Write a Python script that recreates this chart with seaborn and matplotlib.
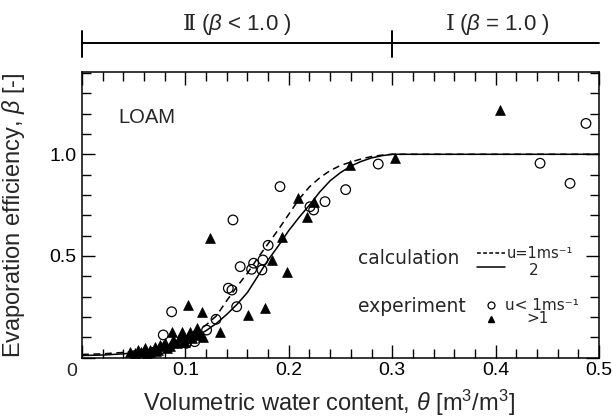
import numpy as np
import pandas as pd
import seaborn as sns
import matplotlib
matplotlib.use('Agg')
from matplotlib import pyplot as plt
from matplotlib.ticker import MultipleLocator

# calculated beta(theta) curves, u = 1 m/s (dashed) and u = 2 m/s (solid)
theta_calc = [0.00, 0.02, 0.04, 0.06, 0.08, 0.09, 0.10, 0.11, 0.12, 0.13, 0.14, 0.15, 0.16, 0.17,
              0.18, 0.19, 0.20, 0.21, 0.22, 0.23, 0.24, 0.25, 0.26, 0.27, 0.28, 0.29, 0.30, 0.50]
beta_u1 = [0.015, 0.018, 0.025, 0.038, 0.062, 0.078, 0.098, 0.125, 0.160, 0.205, 0.280, 0.350, 0.415, 0.490,
           0.560, 0.630, 0.705, 0.780, 0.840, 0.885, 0.920, 0.945, 0.962, 0.977, 0.989, 0.996, 1.000, 1.000]
beta_u2 = [0.010, 0.012, 0.018, 0.030, 0.050, 0.062, 0.080, 0.104, 0.132, 0.168, 0.212, 0.262, 0.320, 0.400,
           0.480, 0.550, 0.625, 0.690, 0.750, 0.815, 0.870, 0.910, 0.942, 0.965, 0.982, 0.993, 1.000, 1.000]

# experiment, u < 1 m/s (open circles)
theta_slow = [0.0786, 0.0867, 0.101, 0.109, 0.1205, 0.1296, 0.1415, 0.145, 0.146, 0.1496, 0.153, 0.164,
              0.166, 0.174, 0.175, 0.180, 0.1915, 0.2205, 0.224, 0.235, 0.255, 0.2865, 0.443, 0.472, 0.4874]
beta_slow = [0.111, 0.225, 0.070, 0.078, 0.135, 0.188, 0.341, 0.332, 0.677, 0.250, 0.447, 0.434,
             0.464, 0.431, 0.480, 0.552, 0.841, 0.742, 0.726, 0.767, 0.826, 0.952, 0.956, 0.857, 1.152]

# experiment, u > 1 m/s (filled triangles)
theta_fast = [0.046, 0.051, 0.0545, 0.057, 0.061, 0.0626, 0.0658, 0.066, 0.0706, 0.072, 0.0738, 0.0754,
              0.078, 0.0803, 0.0819, 0.085, 0.0867, 0.0883, 0.089, 0.0916, 0.094, 0.0964, 0.098, 0.100,
              0.1028, 0.103, 0.1044, 0.106, 0.108, 0.111, 0.112, 0.1141, 0.1157, 0.1173, 0.124, 0.1335,
              0.161, 0.177, 0.1835, 0.193, 0.198, 0.209, 0.2175, 0.224, 0.259, 0.3027, 0.404]
beta_fast = [0.029, 0.021, 0.037, 0.028, 0.045, 0.021, 0.029, 0.038, 0.053, 0.030, 0.037, 0.062,
             0.055, 0.070, 0.045, 0.055, 0.127, 0.086, 0.075, 0.070, 0.090, 0.127, 0.094, 0.075,
             0.258, 0.110, 0.127, 0.094, 0.115, 0.143, 0.120, 0.111, 0.225, 0.102, 0.587, 0.127,
             0.209, 0.242, 0.480, 0.594, 0.422, 0.783, 0.690, 0.767, 0.945, 0.983, 1.218]

xtick_vals = [0.0, 0.1, 0.2, 0.3, 0.4, 0.5]
xtick_labels = ['', '0.1', '0.2', '0.3', '0.4', '0.5']
ytick_vals = [0.0, 0.5, 1.0]
ytick_labels = ['', '0.5', '1.0']

regions = [(0.0, 0.3, 'Ⅱ', '($\\beta$ < 1.0 )'), (0.3, 0.5, 'Ⅰ', '($\\beta$ = 1.0 )')]

sns.set_style('ticks')
plt.rcParams['font.family'] = ['Liberation Sans', 'DejaVu Sans']
plt.rcParams['mathtext.fontset'] = 'custom'
plt.rcParams['mathtext.rm'] = 'Liberation Sans'
plt.rcParams['mathtext.it'] = 'Liberation Sans:italic'

fig = plt.figure(figsize=(6.12, 4.17), dpi=100)
ax = fig.add_axes([82 / 612, 1 - 357.5 / 417, 517 / 612, 285.5 / 417])

calc = pd.DataFrame({'theta': theta_calc, 'u1': beta_u1, 'u2': beta_u2})
sns.lineplot(data=calc, x='theta', y='u1', ax=ax, color='black', lw=1.1,
             linestyle=(0, (4.5, 3)), zorder=2)
sns.lineplot(data=calc, x='theta', y='u2', ax=ax, color='black', lw=1.1, zorder=2)

sns.scatterplot(x=theta_slow, y=beta_slow, ax=ax, marker='o', s=48, color='white',
                edgecolor='black', linewidth=0.9, zorder=3)
ax.collections[-1].set_facecolor('none')
sns.scatterplot(x=theta_fast, y=beta_fast, ax=ax, marker='^', s=50, color='black',
                edgecolor='black', linewidth=0.5, zorder=4)

ax.set_xlim(0, 0.5)
ax.set_ylim(0, 1.405)
ax.set_xticks(xtick_vals)
ax.set_xticklabels(xtick_labels)
ax.set_yticks(ytick_vals)
ax.set_yticklabels(ytick_labels)
ax.xaxis.set_minor_locator(MultipleLocator(0.02))
ax.yaxis.set_minor_locator(MultipleLocator(0.1))
ax.tick_params(which='both', direction='in', top=True, right=True, width=1.0, labelsize=14, colors='black')
ax.tick_params(which='major', length=9.5)
ax.tick_params(which='minor', length=6.5)
ax.tick_params(axis='x', pad=3)
ax.tick_params(axis='y', pad=4)
for sp in ax.spines.values():
    sp.set_linewidth(1.1)
    sp.set_color('black')

ax.annotate('0', xy=(0, 0), xycoords='axes fraction', xytext=(-7.4, -10.4),
            textcoords='offset points', ha='center', va='center', fontsize=14)

ax.set_xlabel('Volumetric water content, $\\theta$ [m$^3$/m$^3$]', fontsize=17)
ax.set_ylabel('Evaporation efficiency, $\\beta$ [-]', fontsize=17)
ax.xaxis.set_label_coords(0.478, -0.106)
ax.yaxis.set_label_coords(-0.1064, 0.5)

# soil type
ax.text(0.035, 1.183, 'LOAM', fontsize=14.5, ha='left', va='center')

# hand-drawn key
kf = dict(family='DejaVu Sans', va='center')
ax.text(0.267, 0.487, 'calculation', ha='left', fontsize=13.5, **kf)
ax.plot([0.382, 0.409], [0.514, 0.514], color='black', lw=1.1, ls=(0, (2.5, 1.5)))
ax.plot([0.382, 0.409], [0.445, 0.445], color='black', lw=1.1)
ax.text(0.411, 0.514, 'u=1ms⁻¹', ha='left', fontsize=10.5, **kf)
ax.text(0.437, 0.428, '2', ha='center', fontsize=11, **kf)
ax.text(0.267, 0.25, 'experiment', ha='left', fontsize=13.5, **kf)
ax.plot([0.3952], [0.258], marker='o', ms=5, mfc='none', mec='black', mew=0.9, ls='none')
ax.plot([0.3952], [0.19], marker='^', ms=5, color='black', ls='none')
ax.text(0.409, 0.258, 'u< 1ms⁻¹', ha='left', fontsize=11, **kf)
ax.text(0.430, 0.19, '>1', ha='left', fontsize=11, **kf)

# regime bar above the plot
for x0, x1, numeral, cond in regions:
    mid = (x0 + x1) / 2
    ax.plot([x0, x1], [1.546, 1.546], color='black', lw=1.4, clip_on=False)
    ax.plot([x0, x0], [1.477, 1.608], color='black', lw=1.4, clip_on=False)
    ax.text(mid - 0.040, 1.641, numeral, ha='right', va='center', fontsize=16,
            family=['DejaVu Serif', 'Noto Sans CJK JP'])
    ax.text(mid - 0.035, 1.641, cond, ha='left', va='center', fontsize=16)

fig.savefig('out.png', dpi=100)
